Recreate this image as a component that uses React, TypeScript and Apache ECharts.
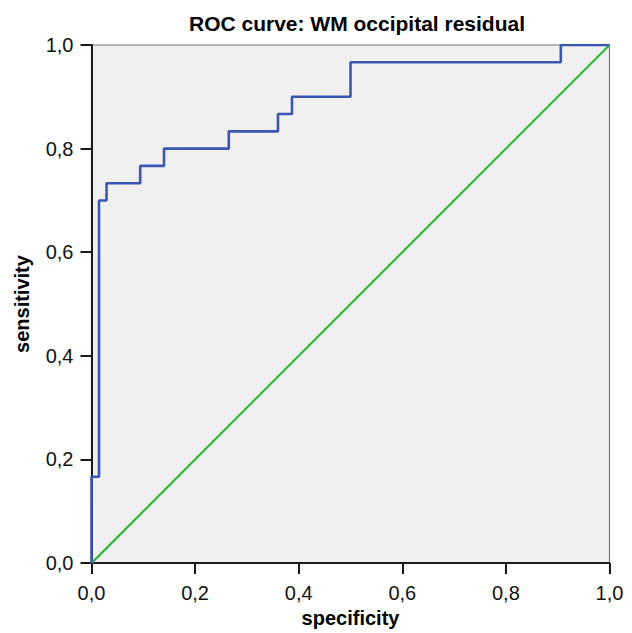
import React, { useEffect, useRef } from "react";
import * as echarts from "echarts";

const rocX = [0, 0, 0.0145, 0.029, 0.094, 0.14, 0.265, 0.36, 0.387, 0.5, 0.906, 1];
const rocY = [0, 0.1667, 0.7, 0.7333, 0.7667, 0.8, 0.8333, 0.8667, 0.9, 0.9667, 1, 1];
const refX = [0, 1];
const refY = [0, 1];
const tickFmt = (v: number) => v.toFixed(1).replace(".", ",");

export default function App() {
  const ref = useRef<HTMLDivElement>(null);
  useEffect(() => {
    const chart = echarts.init(ref.current!, null, { renderer: "svg" });
    const font = "'Liberation Sans', Arial, Helvetica, sans-serif";
    chart.setOption({
      animation: false,
      backgroundColor: "#ffffff",
      title: {
        text: "ROC curve: WM occipital residual",
        left: 352,
        textAlign: "center",
        top: 8,
        textStyle: { fontFamily: font, fontSize: 21, fontWeight: "bold", color: "#000" },
      },
      grid: {
        left: 91.5,
        top: 45,
        right: 22.5,
        bottom: 68,
        show: true,
        backgroundColor: "#f0f0f0",
        borderColor: "#777",
        borderWidth: 1.2,
      },
      xAxis: {
        type: "value",
        min: 0,
        max: 1,
        interval: 0.2,
        name: "specificity",
        nameLocation: "middle",
        nameGap: 43,
        nameTextStyle: { fontFamily: font, fontSize: 20, fontWeight: "bold", color: "#000" },
        axisLine: { show: true, lineStyle: { color: "#1a1a1a", width: 2 } },
        axisTick: { show: true, length: 11, lineStyle: { color: "#1a1a1a", width: 2 } },
        axisLabel: { formatter: tickFmt, fontFamily: font, fontSize: 20, color: "#111", margin: 20 },
        splitLine: { show: false },
      },
      yAxis: {
        type: "value",
        min: 0,
        max: 1,
        interval: 0.2,
        name: "sensitivity",
        nameLocation: "middle",
        nameGap: 60,
        nameTextStyle: { fontFamily: font, fontSize: 20, fontWeight: "bold", color: "#000" },
        axisLine: { show: true, lineStyle: { color: "#1a1a1a", width: 2 } },
        axisTick: { show: true, length: 11, lineStyle: { color: "#1a1a1a", width: 2 } },
        axisLabel: { formatter: tickFmt, fontFamily: font, fontSize: 20, color: "#111", margin: 18 },
        splitLine: { show: false },
      },
      series: [
        {
          type: "line",
          data: refX.map((x, i) => [x, refY[i]]),
          showSymbol: false,
          lineStyle: { color: "#2eb83e", width: 2.2 },
          z: 2,
        },
        {
          type: "line",
          step: "end",
          data: rocX.map((x, i) => [x, rocY[i]]),
          showSymbol: false,
          lineStyle: { color: "#3a56b2", width: 2.6 },
          z: 3,
        },
      ],
    });
    return () => chart.dispose();
  }, []);
  return (
    <div
      ref={ref}
      style={{ position: "fixed", left: 0, top: 0, width: 632, height: 633 }}
    />
  );
}
